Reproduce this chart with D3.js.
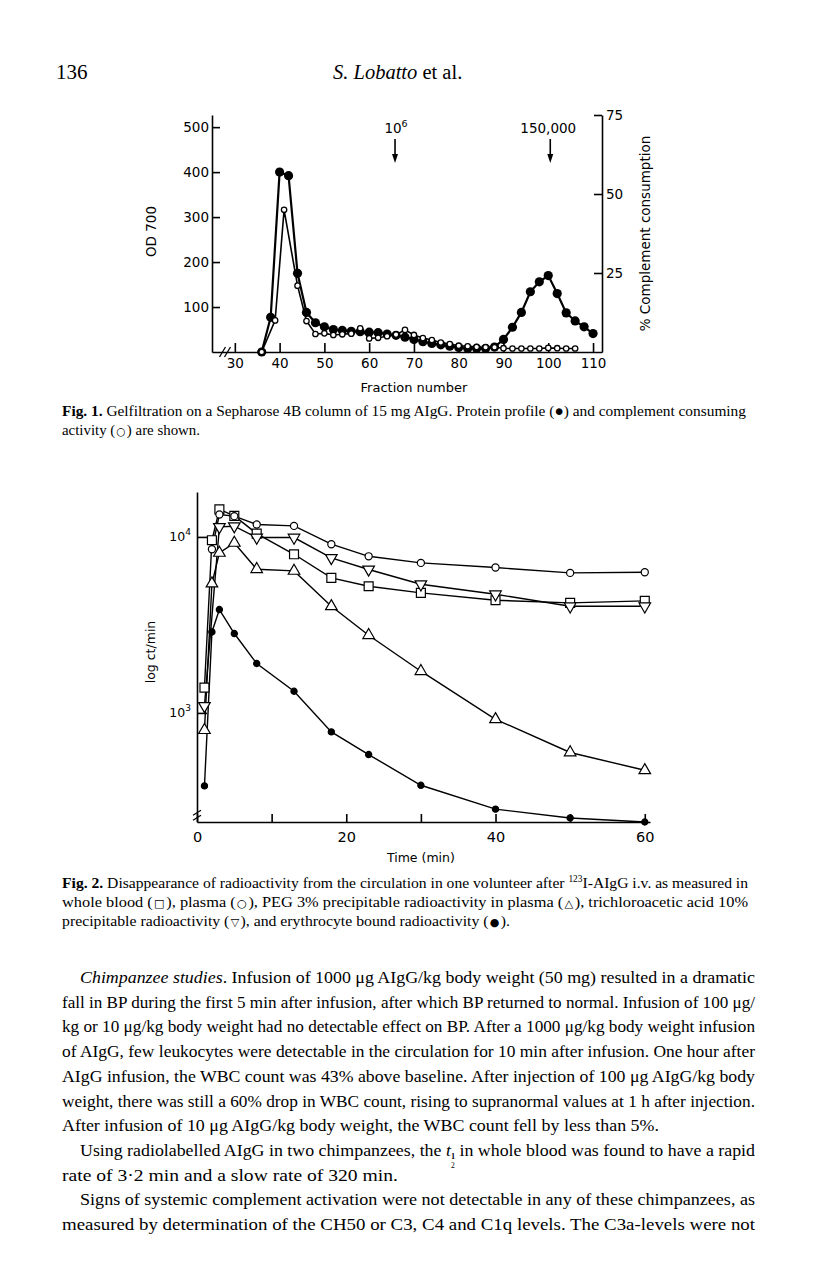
<!DOCTYPE html>
<html><head><meta charset="utf-8">
<script src="https://cdn.jsdelivr.net/npm/d3@7"></script>
<style>body{margin:0;background:#fff} svg{display:block}</style>
</head><body>
<svg id="page" width="816" height="1274"></svg>
<script>
// ---------------- Fig. 1 data ----------------
const fig1ProteinFractions = [36,38,40,42,44,46,48,50,52,54,56,58,60,62,64,66,68,70,72,74,76,78,80,82,84,86,88,90,92,94,96,98,100,102,104,106,108,110];
const fig1Protein = [0,77,400,392,175,88,65,56,50,48,46,45,44,43,40,37,33,28,23,19,16,13,10,8,8,8,11,28,55,88,134,156,170,130,87,69,56,41];
const fig1ComplementFractions = [36,39,41,44,46,48,50,52,54,56,58,60,62,64,66,68,70,72,74,76,78,80,82,84,86,88,90,92,94,96,98,100,102,104,106];
const fig1Complement = [0,10,45,21,9.8,5.7,5.9,5.4,5.6,5.8,7.5,4.3,4.5,5,5.5,7,5.4,4.4,3.8,3,2.5,2,1.8,1.6,1.5,1.5,1.2,1.1,1.1,1.1,1.1,1.3,1.2,1.1,1.1];
const fig1XTicks = [30,40,50,60,70,80,90,100,110];
const fig1LeftTicks = [100,200,300,400,500];
const fig1RightTicks = [25,50,75];
const fig1Arrows = [{fraction:66, label:"10", sup:"6"}, {fraction:100, label:"150,000", sup:""}];

// ---------------- Fig. 2 data ----------------
const fig2Times = [1,2,3,5,8,13,18,23,30,40,50,60];
const fig2WholeBlood = [1393,9575,14330,13160,10450,7970,5850,5245,4810,4368,4218,4330];
const fig2Plasma = [null,8510,13410,13120,11760,11550,9090,7760,7117,6700,6245,6300];
const fig2PEG = [798,5434,8112,9245,6553,6410,4036,2764,1726,920,596,472];
const fig2TCA = [1096,null,11400,11510,9920,9920,7600,6533,5383,4720,4036,4036];
const fig2Erythrocyte = [385,2885,3868,2826,1909,1328,780,580,388,284,253,240];
const fig2XTicks = [0,10,20,30,40,50,60];
const fig2XLabels = [0,20,40,60];
const fig2YTicks = [1000,10000];

const svg = d3.select("#page");
svg.append("rect").attr("width",816).attr("height",1274).attr("fill","#fff");
const SANS = "DejaVu Sans";
const SERIF = "Liberation Serif";

// ---------------- Header ----------------
svg.append("text").attr("x",56).attr("y",79).attr("font-family",SERIF).attr("font-size",21).text("136");
const hdr = svg.append("text").attr("x",333).attr("y",79).attr("font-family",SERIF).attr("font-size",20.5);
hdr.append("tspan").attr("font-style","italic").text("S. Lobatto");
hdr.append("tspan").text(" et al.");

// ---------------- Fig. 1 ----------------
const f1 = {left:212, right:602, top:115, bottom:352};
const x1 = d3.scaleLinear().domain([24.9,112]).range([f1.left,f1.right]);
const y1L = d3.scaleLinear().domain([0,527]).range([f1.bottom,f1.top]);
const y1R = d3.scaleLinear().domain([0,75]).range([f1.bottom,f1.top]);
const g1 = svg.append("g");

function styleAxis(g, size){
  g.attr("font-family",SANS).attr("font-size",size);
  g.selectAll("path,line").attr("stroke","#000").attr("stroke-width",1.6);
  g.selectAll("text").attr("fill","#000");
}
g1.append("g").attr("transform",`translate(${f1.left},0)`)
  .call(d3.axisLeft(y1L).tickValues(fig1LeftTicks).tickSize(-8).tickSizeOuter(0).tickPadding(3))
  .call(g=>styleAxis(g,13.5));
g1.append("g").attr("transform",`translate(${f1.right},0)`)
  .call(d3.axisRight(y1R).tickValues(fig1RightTicks).tickSize(-8).tickSizeOuter(0).tickPadding(4))
  .call(g=>styleAxis(g,13.5));
g1.append("g").attr("transform",`translate(0,${f1.bottom})`)
  .call(d3.axisBottom(x1).tickValues(fig1XTicks).tickSize(-9).tickSizeOuter(0).tickPadding(6))
  .call(g=>styleAxis(g,13.5));
// axis break
[-2.5,2.5].forEach(o=>{
  g1.append("line").attr("x1",x1(27.8)+o-3).attr("y1",f1.bottom+5).attr("x2",x1(27.8)+o+3).attr("y2",f1.bottom-5)
    .attr("stroke","#000").attr("stroke-width",1.3);
});
g1.append("text").attr("transform",`translate(156,${(f1.top+f1.bottom)/2-2}) rotate(-90)`).attr("text-anchor","middle")
  .attr("font-family",SANS).attr("font-size",13.5).text("OD 700");
g1.append("text").attr("transform",`translate(650,${(f1.top+f1.bottom)/2}) rotate(-90)`).attr("text-anchor","middle")
  .attr("font-family",SANS).attr("font-size",13.5).text("% Complement consumption");
g1.append("text").attr("x",(x1(30)+x1(110))/2).attr("y",392).attr("text-anchor","middle")
  .attr("font-family",SANS).attr("font-size",13).text("Fraction number");

// arrows
fig1Arrows.forEach(a=>{
  const t = g1.append("text").attr("x",x1(a.fraction)).attr("y",133).attr("text-anchor","middle")
    .attr("font-family",SANS).attr("font-size",13.5);
  t.append("tspan").text(a.label);
  if (a.sup) t.append("tspan").attr("font-size",9.5).attr("dy",-6).text(a.sup);
  const xa = x1(a.fraction) + (a.sup ? -1 : 2);
  g1.append("line").attr("x1",xa).attr("x2",xa).attr("y1",139).attr("y2",156).attr("stroke","#000").attr("stroke-width",1.6);
  g1.append("path").attr("d",`M${xa-3},154L${xa+3},154L${xa},163Z`).attr("fill","#000");
});

const prot = fig1ProteinFractions.map((f,i)=>({x:f,v:fig1Protein[i]}));
const compl = fig1ComplementFractions.map((f,i)=>({x:f,v:fig1Complement[i]}));
g1.append("path").datum(prot).attr("fill","none").attr("stroke","#000").attr("stroke-width",2.2)
  .attr("d",d3.line().x(d=>x1(d.x)).y(d=>y1L(d.v)));
g1.selectAll(".pd").data(prot).join("circle").attr("cx",d=>x1(d.x)).attr("cy",d=>y1L(d.v)).attr("r",4.6).attr("fill","#000");
g1.append("path").datum(compl).attr("fill","none").attr("stroke","#000").attr("stroke-width",1.6)
  .attr("d",d3.line().x(d=>x1(d.x)).y(d=>y1R(d.v)));
g1.selectAll(".cd").data(compl).join("circle").attr("cx",d=>x1(d.x)).attr("cy",d=>y1R(d.v)).attr("r",2.7)
  .attr("fill","#fff").attr("stroke","#000").attr("stroke-width",1.3);

// ---------------- Fig. 2 ----------------
const f2 = {left:197, right:650, top:492, bottom:822};
const x2 = d3.scaleLinear().domain([0,60.7]).range([f2.left,f2.right]);
const y2 = d3.scaleLog().domain([240,18000]).range([f2.bottom,f2.top]);
const g2 = svg.append("g");
g2.append("g").attr("transform",`translate(${f2.left},0)`)
  .call(d3.axisLeft(y2).tickValues(fig2YTicks).tickSize(-10).tickSizeOuter(0).tickFormat(""))
  .call(g=>styleAxis(g,13))
  .call(g=>g.selectAll(".tick").each(function(d){
    const t = d3.select(this).append("text").attr("x",-6).attr("dy","0.32em").attr("text-anchor","end")
      .attr("font-family",SANS).attr("font-size",12.5).attr("fill","#000");
    t.append("tspan").text("10");
    t.append("tspan").attr("font-size",9).attr("dy",-6).text(Math.round(Math.log10(d)));
  }));
g2.append("g").attr("transform",`translate(0,${f2.bottom})`)
  .call(d3.axisBottom(x2).tickValues(fig2XTicks).tickSize(-8).tickSizeOuter(0).tickPadding(10)
    .tickFormat(d=>fig2XLabels.includes(d)?d:""))
  .call(g=>styleAxis(g,14.5));
[-2.5,2.5].forEach(o=>{
  g2.append("line").attr("x1",f2.left-4).attr("y1",y2(262)+o+2.5).attr("x2",f2.left+4).attr("y2",y2(262)+o-2.5)
    .attr("stroke","#000").attr("stroke-width",1.2);
});
g2.append("text").attr("transform",`translate(155,652) rotate(-90)`).attr("text-anchor","middle")
  .attr("font-family",SANS).attr("font-size",12.5).text("log ct/min");
g2.append("text").attr("x",x2(30)).attr("y",862).attr("text-anchor","middle")
  .attr("font-family",SANS).attr("font-size",12.5).text("Time (min)");

const fig2Series = [
  {values:fig2WholeBlood, marker:"square"},
  {values:fig2Plasma, marker:"circle"},
  {values:fig2PEG, marker:"triangle"},
  {values:fig2TCA, marker:"triangleDown"},
  {values:fig2Erythrocyte, marker:"dot"}
];
const line2 = d3.line().x(d=>x2(d.t)).y(d=>y2(d.v));
fig2Series.forEach(s=>{
  s.pts = fig2Times.map((t,i)=>({t, v:s.values[i]})).filter(d=>d.v!=null);
  g2.append("path").datum(s.pts).attr("fill","none").attr("stroke","#000").attr("stroke-width",1.4).attr("d",line2);
});
const symGen = {
  square: d3.symbol(d3.symbolSquare, 80),
  circle: d3.symbol(d3.symbolCircle, 40),
  triangle: d3.symbol(d3.symbolTriangle, 58),
  triangleDown: d3.symbol(d3.symbolTriangle, 58),
  dot: d3.symbol(d3.symbolCircle, 30)
};
fig2Series.forEach(s=>{
  g2.selectAll(null).data(s.pts).join("path")
    .attr("transform",d=>`translate(${x2(d.t)},${y2(d.v)})${s.marker==="triangleDown"?" rotate(180)":""}`)
    .attr("d",symGen[s.marker]())
    .attr("fill",s.marker==="dot"?"#000":"#fff").attr("stroke","#000").attr("stroke-width",1.2);
});

// ---------------- Text blocks ----------------
function textLine(x, y, size, width, parts){
  const t = svg.append("text").attr("x",x).attr("y",y).attr("font-family",SERIF).attr("font-size",size)
    .attr("fill","#000");
  let shift = 0;
  parts.forEach(p=>{
    const [str, st] = Array.isArray(p) ? p : [p, ""];
    const ts = t.append("tspan").text(str);
    let target = 0;
    if (st.includes("b")) ts.attr("font-weight","bold");
    if (st.includes("i")) ts.attr("font-style","italic");
    if (st === "sup") { ts.attr("font-size",size*0.6); target = -size*0.38; }
    if (st === "sub") { ts.attr("font-size",size*0.46); target = size*0.17; }
    if (st === "sym") { ts.attr("font-size",size*0.7).attr("font-family","DejaVu Sans"); }
    if (target !== shift) { ts.attr("dy", target - shift); shift = target; }
  });
  if (width) t.attr("textLength",width).attr("lengthAdjust","spacingAndGlyphs");
  return t;
}
const HS = "\u200A";

// Fig. 1 caption
textLine(62,416,15.5,684,[["Fig. 1.","b"]," Gelfiltration on a Sepharose 4B column of 15 mg AIgG. Protein profile (●) and complement consuming"]);
textLine(62,435,15.5,138,["activity ("+HS,["○","sym"],HS+") are shown."]);

// Fig. 2 caption
textLine(62,888,15.5,686,[["Fig. 2.","b"]," Disappearance of radioactivity from the circulation in one volunteer after ",["123","sup"],"I-AIgG i.v. as measured in"]);
textLine(62,907,15.5,686,["whole blood ("+HS,["□","sym"],HS+"), plasma ("+HS,["○","sym"],HS+"), PEG 3% precipitable radioactivity in plasma ("+HS,["△","sym"],HS+"), trichloroacetic acid 10%"]);
textLine(62,926,15.5,448,["precipitable radioactivity ("+HS,["▽","sym"],HS+"), and erythrocyte bound radioactivity ("+HS,["●","sym"],HS+")."]);

// Body text
const B0 = 983, BD = 24.7, BS = 17.5;
textLine(80,B0,BS,675,[["Chimpanzee studies","i"],". Infusion of 1000 μg AIgG/kg body weight (50 mg) resulted in a dramatic"]);
textLine(62,B0+BD,BS,693,["fall in BP during the first 5 min after infusion, after which BP returned to normal. Infusion of 100 μg/"]);
textLine(62,B0+2*BD,BS,693,["kg or 10 μg/kg body weight had no detectable effect on BP. After a 1000 μg/kg body weight infusion"]);
textLine(62,B0+3*BD,BS,693,["of AIgG, few leukocytes were detectable in the circulation for 10 min after infusion. One hour after"]);
textLine(62,B0+4*BD,BS,693,["AIgG infusion, the WBC count was 43% above baseline. After injection of 100 μg AIgG/kg body"]);
textLine(62,B0+5*BD,BS,693,["weight, there was still a 60% drop in WBC count, rising to supranormal values at 1 h after injection."]);
textLine(62,B0+6*BD,BS,597,["After infusion of 10 μg AIgG/kg body weight, the WBC count fell by less than 5%."]);
const tl = textLine(80,B0+7*BD,BS,675,["Using radiolabelled AIgG in two chimpanzees, the ",["t","i"],["1","sub"]," in whole blood was found to have a rapid"]);
{
  const idx = "Using radiolabelled AIgG in two chimpanzees, the t".length;
  const n = tl.node();
  const p0 = n.getStartPositionOfChar(idx), p1 = n.getEndPositionOfChar(idx);
  svg.append("text").attr("x",(p0.x+p1.x)/2).attr("y",B0+7*BD+12.5).attr("text-anchor","middle")
    .attr("font-family",SERIF).attr("font-size",7.5).text("2");
}
textLine(62,B0+8*BD,BS,336,["rate of 3·2 min and a slow rate of 320 min."]);
textLine(80,B0+9*BD,BS,675,["Signs of systemic complement activation were not detectable in any of these chimpanzees, as"]);
textLine(62,B0+10*BD,BS,693,["measured by determination of the CH50 or C3, C4 and C1q levels. The C3a-levels were not"]);
</script>
</body></html>
